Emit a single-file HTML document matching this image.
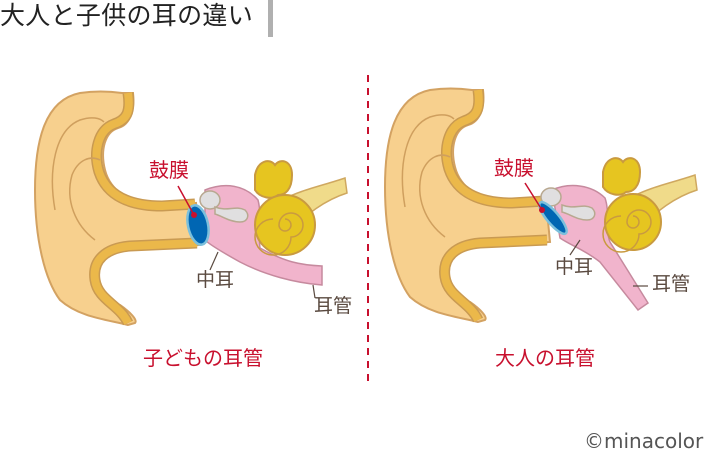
<!DOCTYPE html>
<html><head><meta charset="utf-8"><style>
html,body{margin:0;padding:0;background:#fff;}
body{width:709px;height:459px;position:relative;overflow:hidden;font-family:"Liberation Sans","Noto Sans CJK JP",sans-serif;}
.t{position:absolute;white-space:nowrap;line-height:1;}
</style></head><body>
<svg width="709" height="459" style="position:absolute;left:0;top:0">
<defs>
<g id="ear">
  <path d="M282,200 C300,190 325,185 345,178 L347,193 C325,200 305,215 292,230 Z" fill="#f0db8a" stroke="#cfa860" stroke-width="1.5"/>
  <path d="M122,93 L133,93 C135,110 130,125 118,128 C105,132 100,150 105,170 C110,190 130,205 160,206 L196,203 L200,245 L120,250 C100,250 92,262 95,280 C98,295 110,300 120,305 C130,312 138,320 135,323 L128,325 C110,320 80,318 60,300 C45,280 35,240 35,190 C35,140 45,100 80,93 C100,90 115,92 122,93 Z" fill="#f7d08e" stroke="#d3a262" stroke-width="2"/>
  <path d="M128,93 C131,113 126,120 114,124 C98,130 93,152 99,172 C107,196 130,206 162,206 L195,204" fill="none" stroke="#c99a52" stroke-width="11"/>
  <path d="M128,93 C131,113 126,120 114,124 C98,130 93,152 99,172 C107,196 130,206 162,206 L195,204" fill="none" stroke="#ebb84a" stroke-width="8"/>
  <path d="M197,243 L130,246 C106,248 92,260 95,280 C98,300 120,305 128,323" fill="none" stroke="#c99a52" stroke-width="11"/>
  <path d="M197,243 L130,246 C106,248 92,260 95,280 C98,300 120,305 128,323" fill="none" stroke="#ebb84a" stroke-width="8"/>
  <path d="M55,210 C48,170 55,130 80,120 C92,116 100,118 104,122" fill="none" stroke="#cf9f5e" stroke-width="1.5"/>
  <path d="M95,240 C75,225 65,200 72,175 C78,160 90,155 100,160" fill="none" stroke="#cf9f5e" stroke-width="1.5"/>
</g>
</defs>

<use href="#ear"/>
<path d="M205,190 C225,182 245,185 258,200 C262,215 258,235 260,248 C285,262 300,265 322,266 L322,285 C295,283 265,275 240,262 C222,252 210,245 205,240 Z" fill="#f1b4cc" stroke="#c68a9e" stroke-width="1.5"/>
<ellipse cx="210" cy="200" rx="10" ry="9" fill="#e0dfe0" stroke="#b8a890" stroke-width="1.5"/>
<path d="M215,207 C228,212 235,205 245,210 C250,215 248,222 240,222 C230,222 222,216 215,214 Z" fill="#e0dfe0" stroke="#b8a890" stroke-width="1.5"/>
<path d="M255,175 C258,160 270,158 275,165 C280,158 292,160 292,175 C292,190 285,195 278,195 C272,200 260,198 255,190 Z" fill="#e6c520" stroke="#c99a40" stroke-width="2"/>
<circle cx="285" cy="225" r="30" fill="#e6c520" stroke="#c99a40" stroke-width="2"/>
<path d="M285,225 m0,-6 a6,6 0 1,1 -6,6 a12,12 0 1,1 12,12 a18,18 0 1,1 -18,-18" fill="none" stroke="#c99a40" stroke-width="1.5"/>
<ellipse cx="198" cy="225" rx="10" ry="20" transform="rotate(-12 198 225)" fill="#0066b3" stroke="#7cc0dc" stroke-width="2.5"/>
<circle cx="194" cy="215" r="3" fill="#c8102e"/>
<line x1="194" y1="215" x2="178" y2="186" stroke="#c8102e" stroke-width="1.5"/>
<line x1="218" y1="252" x2="210" y2="270" stroke="#5a4a40" stroke-width="1.2"/>
<line x1="313" y1="285" x2="315" y2="298" stroke="#5a4a40" stroke-width="1.2"/>

<g transform="translate(350,-3)"><use href="#ear"/></g>
<path d="M552,190 C570,182 592,185 605,198 C610,212 605,230 610,242 L648,303 L638,310 L600,262 C585,250 570,245 560,238 Z" fill="#f1b4cc" stroke="#c68a9e" stroke-width="1.5"/>
<ellipse cx="551" cy="197" rx="10" ry="9" fill="#e0dfe0" stroke="#b8a890" stroke-width="1.5"/>
<path d="M562,205 C575,210 582,203 592,208 C597,213 595,220 587,220 C577,220 570,214 562,212 Z" fill="#e0dfe0" stroke="#b8a890" stroke-width="1.5"/>
<path d="M603,172 C606,157 618,155 623,162 C628,155 640,157 640,172 C640,187 633,192 626,192 C620,197 608,195 603,187 Z" fill="#e6c520" stroke="#c99a40" stroke-width="2"/>
<circle cx="633" cy="222" r="28" fill="#e6c520" stroke="#c99a40" stroke-width="2"/>
<path d="M633,222 m0,-6 a6,6 0 1,1 -6,6 a12,12 0 1,1 12,12 a18,18 0 1,1 -18,-18" fill="none" stroke="#c99a40" stroke-width="1.5"/>
<ellipse cx="553" cy="218" rx="6" ry="20" transform="rotate(-40 553 218)" fill="#0066b3" stroke="#7cc0dc" stroke-width="2.5"/>
<circle cx="542" cy="210" r="3" fill="#c8102e"/>
<line x1="542" y1="210" x2="525" y2="183" stroke="#c8102e" stroke-width="1.5"/>
<line x1="580" y1="240" x2="570" y2="255" stroke="#5a4a40" stroke-width="1.2"/>
<line x1="633" y1="286" x2="648" y2="286" stroke="#5a4a40" stroke-width="1.2"/>

<line x1="368" y1="75" x2="368" y2="385" stroke="#c8102e" stroke-width="2" stroke-dasharray="7,6"/>
<rect x="268" y="0" width="5" height="37" fill="#b0b0b0"/>
</svg>

<div class="t" style="left:0;top:4px;font-size:25px;color:#222;letter-spacing:0.3px">大人と子供の耳の違い</div>
<div class="t" style="left:149px;top:161px;font-size:20px;color:#c8102e">鼓膜</div>
<div class="t" style="left:196px;top:271px;font-size:19px;color:#5a4a40">中耳</div>
<div class="t" style="left:314px;top:297px;font-size:19px;color:#5a4a40">耳管</div>
<div class="t" style="left:143px;top:349px;font-size:20px;color:#c8102e">子どもの耳管</div>
<div class="t" style="left:494px;top:159px;font-size:20px;color:#c8102e">鼓膜</div>
<div class="t" style="left:555px;top:258px;font-size:19px;color:#5a4a40">中耳</div>
<div class="t" style="left:652px;top:275px;font-size:19px;color:#5a4a40">耳管</div>
<div class="t" style="left:495px;top:349px;font-size:20px;color:#c8102e">大人の耳管</div>
<div class="t" style="left:584px;top:431px;font-size:20px;color:#555;font-family:'DejaVu Sans',sans-serif">©minacolor</div>
</body></html>
